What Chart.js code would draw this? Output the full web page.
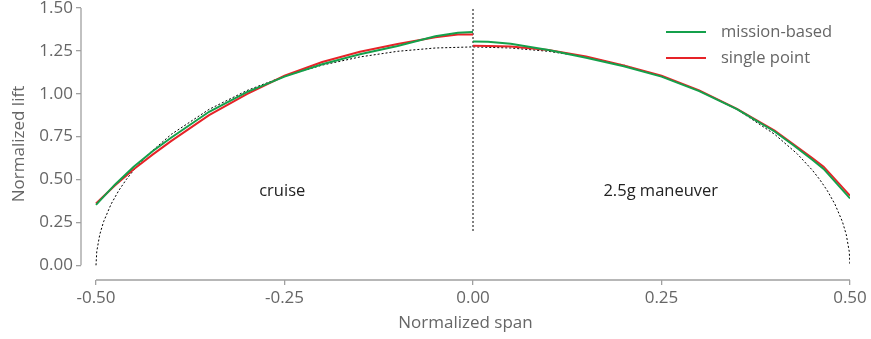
<!DOCTYPE html>
<html>
<head>
<meta charset="utf-8">
<script src="https://cdn.jsdelivr.net/npm/chart.js@4.4.1/dist/chart.umd.min.js"></script>
<style>
  body { margin: 0; background: #fff; }
  canvas { display: block; }
</style>
</head>
<body>
<canvas id="lift" width="871" height="339"></canvas>
<script>
// spanwise stations (normalized span) for each half
const leftSpan  = [-0.5, -0.475, -0.45, -0.425, -0.4, -0.35, -0.3, -0.25, -0.2, -0.15, -0.1, -0.05, -0.02, 0];
const rightSpan = [0, 0.02, 0.05, 0.1, 0.15, 0.2, 0.25, 0.3, 0.35, 0.4, 0.425, 0.45, 0.465, 0.5];

// cruise (left) and 2.5g maneuver (right) lift distributions
const missionLeft  = [0.352, 0.47, 0.575, 0.665, 0.745, 0.895, 1.01, 1.10, 1.172, 1.23, 1.278, 1.335, 1.356, 1.36];
const singleLeft   = [0.36, 0.465, 0.56, 0.645, 0.725, 0.875, 0.998, 1.105, 1.185, 1.245, 1.29, 1.33, 1.345, 1.346];
const missionRight = [1.305, 1.303, 1.292, 1.255, 1.21, 1.16, 1.10, 1.015, 0.91, 0.78, 0.70, 0.615, 0.562, 0.39];
const singleRight  = [1.28, 1.279, 1.275, 1.255, 1.218, 1.165, 1.105, 1.02, 0.912, 0.785, 0.705, 0.625, 0.575, 0.406];

// elliptic reference distribution
const ellipseSpan = [-0.5, -0.499, -0.495, -0.49, -0.48, -0.47, -0.46, -0.45, -0.43, -0.4, -0.35, -0.3, -0.25, -0.2, -0.15, -0.1, -0.05, 0,
                     0.05, 0.1, 0.15, 0.2, 0.25, 0.3, 0.35, 0.4, 0.43, 0.45, 0.46, 0.47, 0.48, 0.49, 0.495, 0.499, 0.5];
const ellipseLift = [0, 0.0805, 0.1796, 0.2534, 0.3565, 0.4344, 0.499, 0.555, 0.6497, 0.7639, 0.9092, 1.0186, 1.1026, 1.1669, 1.2146, 1.2475, 1.2668, 1.2732,
                     1.2668, 1.2475, 1.2146, 1.1669, 1.1026, 1.0186, 0.9092, 0.7639, 0.6497, 0.555, 0.499, 0.4344, 0.3565, 0.2534, 0.1796, 0.0805, 0];

// divider between the two cases
const dividerSpan = [0, 0];
const dividerLift = [0.2, 1.5];

const xTicks = [-0.5, -0.25, 0, 0.25, 0.5];
const yTicks = [0, 0.25, 0.5, 0.75, 1.0, 1.25, 1.5];

const seriesNames = ['mission-based', 'single point'];
const regionLabels = [
    { text: 'cruise', x: -0.253, y: 0.43 },
    { text: '2.5g maneuver', x: 0.249, y: 0.43 }
];

const green = 'rgb(20,160,75)';
const red = 'rgb(230,35,40)';
const FONT = '"Open Sans", Lato, sans-serif';

function halves(xl, yl, xr, yr) {
    var pts = xl.map((x, i) => ({ x: x, y: yl[i] }));
    pts.push({ x: 0, y: null });
    return pts.concat(xr.map((x, i) => ({ x: x, y: yr[i] })));
}

function pairs(xs, ys) {
    return xs.map((x, i) => ({ x: x, y: ys[i] }));
}

// detached spines, legend and region labels
const decorations = {
    id: 'decorations',
    afterDraw(chart) {
        var ctx = chart.ctx, sx = chart.scales.x, sy = chart.scales.y, area = chart.chartArea;
        ctx.save();
        ctx.strokeStyle = '#a0a0a0';
        ctx.lineWidth = 1.3;
        ctx.beginPath();
        ctx.moveTo(area.left, sy.getPixelForValue(yTicks[yTicks.length - 1]));
        ctx.lineTo(area.left, sy.getPixelForValue(yTicks[0]));
        ctx.moveTo(sx.getPixelForValue(xTicks[0]), area.bottom);
        ctx.lineTo(sx.getPixelForValue(xTicks[xTicks.length - 1]), area.bottom);
        ctx.stroke();

        ctx.font = '16.5px ' + FONT;
        ctx.textBaseline = 'middle';
        ctx.textAlign = 'center';
        ctx.fillStyle = '#222';
        regionLabels.forEach(function (l) {
            ctx.fillText(l.text, sx.getPixelForValue(l.x), sy.getPixelForValue(l.y));
        });

        // legend, top right
        var lx = area.right - 184, ly = area.top + 24;
        [green, red].forEach(function (c, i) {
            var y = ly + i * 26;
            ctx.strokeStyle = c;
            ctx.lineWidth = 2;
            ctx.beginPath();
            ctx.moveTo(lx, y);
            ctx.lineTo(lx + 40, y);
            ctx.stroke();
            ctx.fillStyle = '#666';
            ctx.textAlign = 'left';
            ctx.fillText(seriesNames[i], lx + 55, y);
        });
        ctx.restore();
    }
};

const config = {
    type: 'line',
    data: {
        datasets: [
            {
                label: seriesNames[0],
                data: halves(leftSpan, missionLeft, rightSpan, missionRight),
                borderColor: green,
                borderWidth: 2,
                spanGaps: false,
                order: 0
            },
            {
                label: seriesNames[1],
                data: halves(leftSpan, singleLeft, rightSpan, singleRight),
                borderColor: red,
                borderWidth: 2,
                spanGaps: false,
                order: 1
            },
            {
                label: 'elliptic',
                data: pairs(ellipseSpan, ellipseLift),
                borderColor: '#000',
                borderWidth: 1,
                borderDash: [2, 2],
                order: 2
            },
            {
                label: 'divider',
                data: pairs(dividerSpan, dividerLift),
                borderColor: '#000',
                borderWidth: 1,
                borderDash: [2, 2],
                order: 3
            }
        ]
    },
    options: {
        responsive: false,
        animation: false,
        layout: { padding: { top: 8, right: 21, left: 0, bottom: 0 } },
        elements: {
            point: { radius: 0 },
            line: { tension: 0, fill: false }
        },
        plugins: {
            legend: { display: false },
            tooltip: { enabled: false }
        },
        scales: {
            x: {
                type: 'linear',
                min: -0.5199,
                max: 0.5,
                afterBuildTicks: function (s) { s.ticks = xTicks.map(v => ({ value: v })); },
                afterFit: function (s) { s.height = 59; s.paddingLeft = 0; s.paddingRight = 0; },
                border: { display: false },
                grid: { drawOnChartArea: false, drawTicks: true, tickLength: 5, color: '#a0a0a0', lineWidth: 1.3 },
                ticks: {
                    color: '#666',
                    font: { family: FONT, size: 17 },
                    padding: 3,
                    maxRotation: 0,
                    callback: v => v.toFixed(2)
                },
                title: {
                    display: true,
                    text: 'Normalized span',
                    color: '#666',
                    font: { family: FONT, size: 17 },
                    padding: { top: 4, bottom: 6 }
                }
            },
            y: {
                type: 'linear',
                min: -0.0858,
                max: 1.5,
                afterBuildTicks: function (s) { s.ticks = yTicks.map(v => ({ value: v })); },
                afterFit: function (s) { s.width = 81; s.paddingTop = 0; s.paddingBottom = 0; },
                border: { display: false },
                grid: { drawOnChartArea: false, drawTicks: true, tickLength: 5, color: '#a0a0a0', lineWidth: 1.3 },
                ticks: {
                    color: '#666',
                    font: { family: FONT, size: 17 },
                    padding: 3,
                    callback: v => v.toFixed(2)
                },
                title: {
                    display: true,
                    text: 'Normalized lift',
                    color: '#666',
                    font: { family: FONT, size: 17 },
                    padding: { top: 9, bottom: 4 }
                }
            }
        }
    },
    plugins: [decorations]
};

new Chart(document.getElementById('lift').getContext('2d'), config);
</script>
</body>
</html>
